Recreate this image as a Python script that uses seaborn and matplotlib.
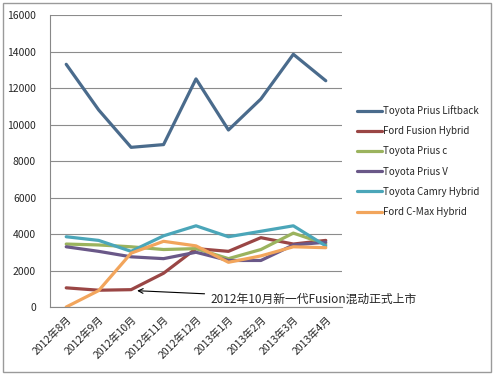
import pandas as pd
import matplotlib.pyplot as plt
import seaborn as sns

months = ["2012年8月", "2012年9月", "2012年10月", "2012年11月", "2012年12月",
          "2013年1月", "2013年2月", "2013年3月", "2013年4月"]

prius_liftback = [13300, 10800, 8750, 8900, 12500, 9700, 11400, 13850, 12400]
fusion_hybrid = [1050, 920, 950, 1850, 3200, 3050, 3800, 3450, 3650]
prius_c = [3450, 3400, 3300, 3150, 3200, 2650, 3150, 4050, 3450]
prius_v = [3300, 3050, 2750, 2650, 3000, 2550, 2550, 3400, 3550]
camry_hybrid = [3850, 3650, 3050, 3900, 4450, 3850, 4150, 4450, 3350]
cmax_hybrid = [0, 900, 2950, 3600, 3350, 2450, 2800, 3300, 3250]

series = {
    "Toyota Prius Liftback": prius_liftback,
    "Ford Fusion Hybrid": fusion_hybrid,
    "Toyota Prius c": prius_c,
    "Toyota Prius V": prius_v,
    "Toyota Camry Hybrid": camry_hybrid,
    "Ford C-Max Hybrid": cmax_hybrid,
}
colors = ["#4A6B8C", "#9A4645", "#9BB35E", "#6A5888", "#4BA6B9", "#F2A55C"]

df = pd.DataFrame([(name, i, v) for name, vals in series.items() for i, v in enumerate(vals)],
                  columns=["model", "month", "sales"])

sns.set_style("white")
plt.rcParams['font.family'] = ['Noto Sans CJK SC', 'DejaVu Sans']

fig = plt.figure(figsize=(5, 3.76), dpi=100)
ax = fig.add_axes([0.1, 0.1835, 0.584, 0.7765])

sns.lineplot(data=df, x="month", y="sales", hue="model", palette=colors,
             lw=2.3, ax=ax, sort=False, estimator=None, errorbar=None)

ax.set_xlim(-0.5, len(months) - 0.5)
ax.set_ylim(0, 16000)
ax.set_yticks(range(0, 16001, 2000))
ax.set_xticks(range(len(months)))
ax.set_xticklabels(months, rotation=45, ha="right", rotation_mode="anchor", fontsize=7.5)
ax.set_xticks([i - 0.5 for i in range(len(months) + 1)], minor=True)
ax.tick_params(axis="x", which="major", length=0, pad=5)
ax.tick_params(axis="x", which="minor", length=4, color="#888888", direction="out")
ax.tick_params(axis="y", length=4, color="#888888", direction="out", labelsize=7.5, pad=6)
ax.xaxis.grid(False, which="both")
ax.yaxis.grid(True, which="major", color="#8c8c8c", lw=0.8)
ax.set_axisbelow(True)
sns.despine(ax=ax)
for s in ["left", "bottom"]:
    ax.spines[s].set_color("#888888")
    ax.spines[s].set_linewidth(0.8)
ax.set_xlabel("")
ax.set_ylabel("")

ax.legend(loc="center left", bbox_to_anchor=(1.02, 0.5), frameon=False,
          fontsize=7, handlelength=2.6, handletextpad=0.1, labelspacing=1.05)

ax.annotate("2012年10月新一代Fusion混动正式上市", xy=(2.1, 900), xytext=(4.45, 450),
            fontsize=8.5, va="center", ha="left", annotation_clip=False,
            arrowprops=dict(arrowstyle="->", color="black", lw=0.8))

fig.add_artist(plt.Rectangle((0.006, 0.01), 0.975, 0.982, transform=fig.transFigure,
                             fill=False, edgecolor="#9a9a9a", lw=1))

plt.savefig("out.png", dpi=100)
